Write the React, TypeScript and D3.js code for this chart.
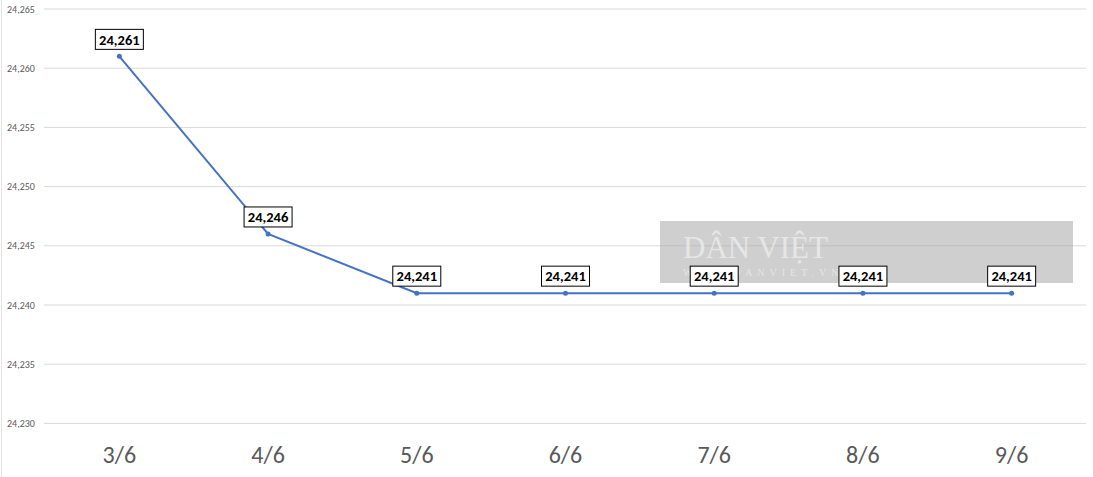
import React from "react";
import * as d3 from "d3";

const categories = ["3/6", "4/6", "5/6", "6/6", "7/6", "8/6", "9/6"];
const values = [24261, 24246, 24241, 24241, 24241, 24241, 24241];
const yTicks = [24230, 24235, 24240, 24245, 24250, 24255, 24260, 24265];

const W = 1093;
const H = 477;

export default function App() {
  const x = d3.scaleBand<string>().domain(categories).range([45, 1086]);
  const y = d3.scaleLinear().domain([24230, 24265]).range([423.4, 9]);
  const fmt = d3.format(",");
  const cx = (c: string) => (x(c) as number) + x.bandwidth() / 2;
  const line = d3
    .line<number>()
    .x((_, i) => cx(categories[i]))
    .y((v) => y(v));

  return (
    <svg
      width={W}
      height={H}
      style={{ position: "absolute", left: 0, top: 0, background: "#fff" }}
      fontFamily="Calibri, Carlito, Lato, 'Liberation Sans', Arial, sans-serif"
    >
      <rect width={W} height={H} fill="#fff" />
      <line x1={1.5} x2={1.5} y1={0} y2={H} stroke="#e4e4e4" />
      {yTicks.map((t) => (
        <g key={t}>
          <line x1={44} x2={1086} y1={y(t)} y2={y(t)} stroke="#d9d9d9" strokeWidth={1} />
          <text x={7} y={y(t)} dy="0.35em" fontSize={10} fill="#595959">
            {fmt(t)}
          </text>
        </g>
      ))}
      {categories.map((c) => (
        <text
          key={c}
          x={cx(c)}
          y={455}
          dy="0.35em"
          textAnchor="middle"
          fontSize={24}
          fill="#595959"
        >
          {c}
        </text>
      ))}
      <path d={line(values) || ""} fill="none" stroke="#4472C4" strokeWidth={2} />
      {values.map((v, i) => (
        <circle key={i} cx={cx(categories[i])} cy={y(v)} r={2.5} fill="#4472C4" />
      ))}
      <g>
        <rect x={660} y={221} width={413} height={62} fill="#a8a8a8" opacity={0.55} />
        <text
          x={683}
          y={258}
          fontFamily="'Liberation Serif', 'DejaVu Serif', serif"
          fontSize={31}
          fill="#ececec"
          opacity={0.8}
        >
          DÂN VIỆT
        </text>
        <text
          x={683}
          y={276}
          fontFamily="'Liberation Serif', 'DejaVu Serif', serif"
          fontSize={10}
          letterSpacing={5}
          fill="#ececec"
          opacity={0.8}
        >
          WWW.DANVIET.VN
        </text>
      </g>
      {values.map((v, i) => {
        const px = cx(categories[i]);
        const py = y(v);
        const bw = 48;
        const bh = 20;
        return (
          <g key={"l" + i}>
            <rect
              x={px - bw / 2}
              y={py - 7 - bh}
              width={bw}
              height={bh}
              fill="#fff"
              stroke="#000"
              strokeWidth={1}
            />
            <text
              x={px}
              y={py - 7 - bh / 2}
              dy="0.36em"
              textAnchor="middle"
              fontSize={14.5}
              fontWeight="bold"
              fill="#000"
            >
              {fmt(v)}
            </text>
          </g>
        );
      })}
    </svg>
  );
}
